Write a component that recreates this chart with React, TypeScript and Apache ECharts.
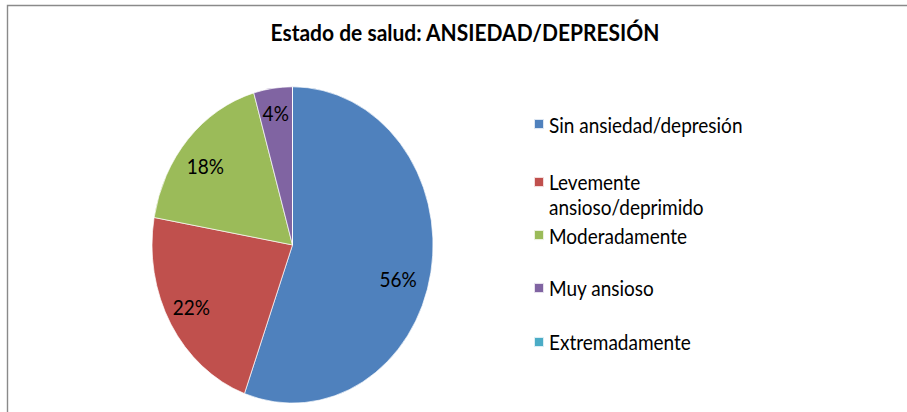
import React, { useEffect, useRef } from "react";
import * as echarts from "echarts";

const titleText = "Estado de salud: ANSIEDAD/DEPRESIÓN";
const categories = [
  "Sin ansiedad/depresión",
  "Levemente ansioso/deprimido",
  "Moderadamente",
  "Muy ansioso",
  "Extremadamente",
];
const legendLabels = [
  "Sin ansiedad/depresión",
  "\nLevemente\nansioso/deprimido",
  "Moderadamente",
  "Muy ansioso",
  "Extremadamente",
];
const counts = [25, 10, 8, 2, 0];
const colors = ["#4F81BD", "#C0504D", "#9BBB59", "#8064A2", "#4BACC6"];

const STRETCH = 1.1257;
const W = 907;
const H = 366;
const FONT = "Lato, 'Open Sans', sans-serif";
const LINE_H = 22;
const legendTops = [99.2, 128.7, 197.8, 244.8, 292.8];
// small "best fit" nudges of the percentage labels (styling only)
const labelNudges = [
  [-6, 9.8],
  [-3, -1.8],
  [-3, 5.3],
  [-1, -5.3],
  [0, 0],
];

export default function App() {
  const ref = useRef<HTMLDivElement>(null);
  useEffect(() => {
    if (!ref.current) return;
    const chart = echarts.init(ref.current, undefined, { renderer: "svg" });
    const data = categories.map((name, i) => ({
      name,
      value: counts[i],
      itemStyle: { color: colors[i] },
    }));
    const legends = categories.map((name, i) => ({
      data: [name],
      orient: "vertical",
      left: 533,
      top: legendTops[i],
      padding: 0,
      icon: "rect",
      itemWidth: 10,
      itemHeight: 9,
      selectedMode: false,
      formatter: () => legendLabels[i],
      textStyle: {
        fontFamily: FONT,
        fontSize: 19,
        color: "#000",
        lineHeight: LINE_H,
      },
    }));
    chart.setOption({
      animation: false,
      backgroundColor: "#fff",
      title: {
        text: titleText,
        left: 465,
        textAlign: "center",
        top: 15.5,
        padding: 0,
        textStyle: {
          fontFamily: FONT,
          fontSize: 21,
          fontWeight: "bold",
          color: "#000",
          lineHeight: 26,
        },
      },
      legend: legends,
      graphic: [
        {
          type: "rect",
          shape: { x: 7.5, y: 4.9, width: 1200, height: 1200 },
          style: { fill: "none", stroke: "#8a8a8a", lineWidth: 1.4 },
          silent: true,
          z: -1,
        },
      ],
      series: [
        {
          type: "pie",
          center: [292.5, 217.6],
          radius: [0, 140.5],
          startAngle: 90,
          clockwise: true,
          data,
          label: { show: false },
          labelLine: { show: false },
          itemStyle: { borderColor: "rgba(255,255,255,0.8)", borderWidth: 0.8 },
          emphasis: { disabled: true },
          silent: true,
        },
        {
          type: "pie",
          center: [292.5, 217.6],
          radius: [80, 140.5],
          startAngle: 90,
          clockwise: true,
          data: categories.map((name, i) => ({
            name,
            value: counts[i],
            label: { offset: labelNudges[i] },
          })),
          itemStyle: { color: "rgba(0,0,0,0)", borderWidth: 0 },
          label: {
            show: true,
            position: "inside",
            fontFamily: FONT,
            fontSize: 19,
            color: "#000",
            formatter: (p: any) => (p.value > 0 ? Math.round(p.percent) + "%" : ""),
          },
          labelLine: { show: false },
          emphasis: { disabled: true },
          silent: true,
          z: 3,
        },
      ],
    });
    return () => chart.dispose();
  }, []);
  return (
    <div
      style={{
        position: "fixed",
        left: 0,
        top: 0,
        width: W,
        height: H * STRETCH,
        overflow: "hidden",
        background: "#fff",
      }}
    >
      <div
        ref={ref}
        style={{
          width: W,
          height: H,
          transform: `scaleY(${STRETCH})`,
          transformOrigin: "0 0",
        }}
      />
    </div>
  );
}
